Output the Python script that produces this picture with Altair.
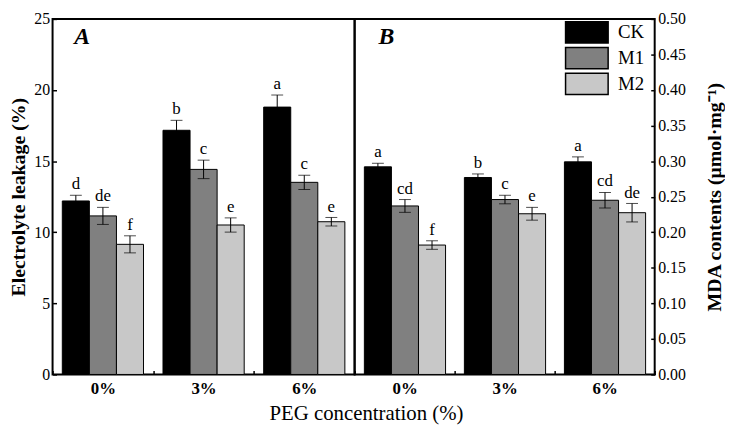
import altair as alt
import pandas as pd

conc = ["0%", "3%", "6%"]
groups = ["CK", "M1", "M2"]
colors = ["#000000", "#808080", "#c8c8c8"]

el_mean = [12.2, 11.15, 9.15, 17.17, 14.42, 10.51, 18.8, 13.51, 10.74]
el_err = [0.4, 0.6, 0.6, 0.7, 0.65, 0.5, 0.85, 0.5, 0.3]
el_letters = ["d", "de", "f", "b", "c", "e", "a", "c", "e"]

mda_mean = [0.292, 0.237, 0.182, 0.277, 0.246, 0.226, 0.299, 0.245, 0.2275]
mda_err = [0.005, 0.009, 0.006, 0.005, 0.006, 0.009, 0.007, 0.011, 0.013]
mda_letters = ["a", "cd", "f", "b", "c", "e", "a", "cd", "de"]

el_ticks = [0, 5, 10, 15, 20, 25]
mda_ticks = [0.0, 0.05, 0.10, 0.15, 0.20, 0.25, 0.30, 0.35, 0.40, 0.45, 0.50]

FONT = "Liberation Serif"
H = 359


def make_df(means, errs, letters):
    rows = []
    for i, c in enumerate(conc):
        for j, g in enumerate(groups):
            k = i * 3 + j
            rows.append(dict(conc=c, group=g, mean=means[k],
                             lo=means[k] - errs[k], hi=means[k] + errs[k],
                             letter=letters[k]))
    return pd.DataFrame(rows)


color_scale = alt.Scale(domain=groups, range=colors)
legend = alt.Legend(
    title=None, orient="none", legendX=528, legendY=2,
    symbolType="M-2,-1H2V1H-2Z", symbolSize=462,
    symbolStrokeColor="black", symbolStrokeWidth=1.5, symbolOpacity=1,
    labelFont=FONT, labelFontSize=19, labelColor="black", labelOffset=20,
    rowPadding=-4.5,
)


def panel(df, ydomain, yaxis, label, lx, width):
    yscale = alt.Scale(domain=ydomain, nice=False, zero=True)

    def Y(field):
        return alt.Y(field, type="quantitative", scale=yscale, axis=yaxis)

    base = alt.Chart(df).encode(
        x=alt.X("conc:N", sort=conc,
                scale=alt.Scale(paddingInner=0, paddingOuter=0),
                axis=alt.Axis(title=None, labelAngle=0, labelFont=FONT,
                              labelFontWeight="bold", labelFontSize=17,
                              labelColor="black", tickBand="extent",
                              tickSize=4, offset=-4, domain=False,
                              tickColor="black", tickWidth=1.5,
                              labelPadding=6)),
        xOffset=alt.XOffset("group:N", sort=groups,
                            scale=alt.Scale(paddingInner=0, paddingOuter=0.36)),
    )
    bars = base.mark_bar(stroke="black", strokeWidth=1, opacity=1).encode(
        y=Y("mean"),
        color=alt.Color("group:N", scale=color_scale, legend=legend),
    )
    rules = base.mark_rule(color="black", strokeWidth=1).encode(
        y=Y("lo"), y2="hi:Q")
    cap_hi = base.mark_tick(color="black", thickness=1, size=12).encode(y=Y("hi"))
    cap_lo = base.mark_tick(color="black", thickness=1, size=12).encode(y=Y("lo"))
    letters = base.mark_text(font=FONT, fontSize=17, baseline="bottom",
                             dy=-2, color="black").encode(
        y=Y("hi"), text="letter:N")
    lab = alt.Chart(pd.DataFrame({"t": [label]})).mark_text(
        font=FONT, fontSize=24, fontWeight="bold", fontStyle="italic",
        color="black", align="center", baseline="middle").encode(
        x=alt.value(lx), y=alt.value(18), text="t:N")
    return alt.layer(bars, rules, cap_hi, cap_lo, letters, lab).properties(
        width=width, height=H)


left_axis = alt.Axis(values=el_ticks, title="Electrolyte leakage (%)",
                     titleFont=FONT, titleFontSize=20, titleFontWeight="bold",
                     titleColor="black", labelFont=FONT, labelFontSize=16,
                     labelColor="black", tickSize=4, offset=-4, domain=False,
                     grid=False, tickColor="black", tickWidth=1.5,
                     labelPadding=3, titlePadding=5, labelOverlap=False)
right_axis = alt.Axis(values=mda_ticks, format=".2f", orient="right",
                      title="MDA contents (μmol·mg⁻¹)", titleAngle=270,
                      titleBaseline="top", titleAlign="center",
                      titleX=54, titleY=H / 2,
                      titleFont=FONT, titleFontSize=20, titleFontWeight="bold",
                      titleColor="black", labelFont=FONT, labelFontSize=16,
                      labelColor="black", tickSize=4, offset=-4, domain=False,
                      grid=False, tickColor="black", tickWidth=1.5,
                      labelPadding=3, labelOverlap=False)

pA = panel(make_df(el_mean, el_err, el_letters), [0, 25], left_axis, "A", 30, 305)
pB = panel(make_df(mda_mean, mda_err, mda_letters), [0, 0.5], right_axis, "B", 32, 303)

chart = alt.hconcat(pA, pB, spacing=0, bounds="flush").properties(
    title=alt.TitleParams("PEG concentration (%)", orient="bottom",
                          anchor="middle", font=FONT, fontSize=21,
                          fontWeight="normal", color="black", offset=6),
    padding={"left": 0, "top": 0, "right": 0, "bottom": 0},
).configure_view(stroke="black", strokeWidth=2)

chart.save("out.html", embed_options={"renderer": "svg", "actions": False})
